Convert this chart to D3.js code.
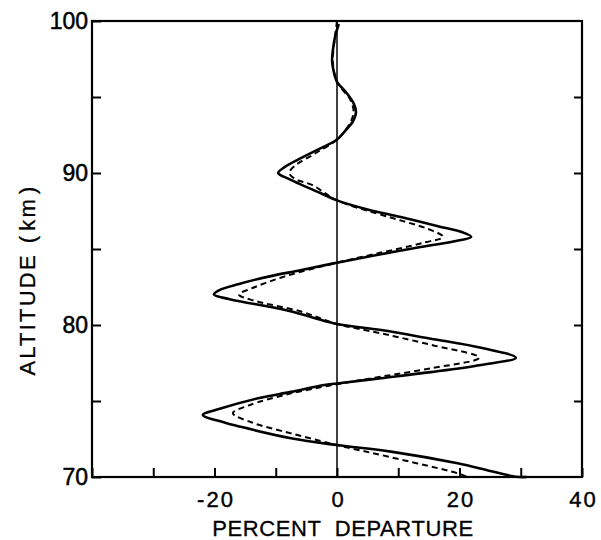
<!DOCTYPE html>
<html>
<head>
<meta charset="utf-8">
<script src="https://cdn.jsdelivr.net/npm/d3@7"></script>
<style>
  html, body { margin: 0; padding: 0; background: #fff; }
  svg { display: block; }
  text { font-family: "Liberation Sans", "DejaVu Sans", sans-serif; fill: #000; }
</style>
</head>
<body>
<svg id="chart" width="601" height="540"></svg>
<script>
// ---- data ----
const xTicks = [-40, -30, -20, -10, 0, 10, 20, 30, 40];
const xLabels = [-20, 0, 20, 40];
const yTicks = [70, 75, 80, 85, 90, 95, 100];
const yLabels = [70, 80, 90, 100];

// measured profile (solid): altitude (km), percent departure
const measuredAlt = [99.8, 99.0, 98.0, 97.4, 96.8, 96.0, 95.3, 94.6, 94.0, 93.4, 92.8, 92.2, 91.5, 90.9, 90.4, 90.0, 89.6, 89.3, 88.7, 88.2, 87.6, 87.1, 86.5, 86.1, 85.8, 85.5, 85.1, 84.6, 84.1, 83.6, 83.2, 82.7, 82.3, 82.0, 81.7, 81.0, 80.5, 80.07, 79.67, 79.1, 78.5, 77.85, 77.37, 76.9, 76.5, 76.15, 76.05, 75.6, 75.18, 74.5, 74.08, 73.6, 73.3, 72.55, 72.1, 71.67, 70.9, 70.4, 70.02, 70.0];
const measuredVal = [0.3, -0.3, -0.7, -0.8, -0.6, 0.0, 1.5, 2.7, 3.1, 2.6, 1.4, 0.0, -3.3, -6.3, -8.5, -9.6, -7.8, -6.2, -2.8, 0.0, 5.0, 10.4, 16.5, 20.5, 21.9, 19.0, 13.2, 6.5, 0.0, -6.0, -11.0, -16.0, -19.2, -20.1, -17.5, -8.6, -4.0, 0.0, 7.2, 15.3, 23.5, 29.2, 23.5, 15.3, 7.2, 0.0, -2.1, -7.5, -12.9, -19.0, -21.9, -18.5, -15.7, -7.5, 0.0, 8.8, 19.7, 25.0, 29.2, 31.0];

// fitted profile (dashed)
const fitAlt = [100.0, 98.0, 97.4, 96.0, 94.8, 94.0, 93.2, 92.2, 91.3, 90.5, 90.0, 89.6, 89.2, 88.2, 87.1, 86.3, 85.8, 85.4, 84.7, 84.1, 83.2, 82.4, 82.0, 81.6, 80.9, 80.07, 79.45, 78.7, 77.85, 77.15, 76.6, 76.1, 75.5, 74.7, 74.2, 73.6, 72.87, 72.1, 71.3, 70.24, 70.0];
const fitVal = [0.0, -0.6, -0.7, 0.0, 2.2, 2.7, 2.0, 0.0, -3.5, -6.8, -7.8, -6.8, -4.0, 0.0, 8.5, 15.0, 17.3, 14.0, 6.5, 0.0, -8.5, -14.0, -16.0, -13.5, -6.0, 0.0, 7.2, 15.3, 23.2, 15.3, 7.2, 0.0, -7.5, -14.5, -17.0, -14.0, -7.5, 0.0, 8.8, 19.7, 21.3];

// ---- layout ----
const svg = d3.select("#chart");
const pLeft = 92, pRight = 582, pTop = 21, pBottom = 477;

const x = d3.scaleLinear().domain([-40, 40]).range([pLeft, pRight]);
const y = d3.scaleLinear().domain([70, 100]).range([pBottom, pTop]);

const measured = measuredAlt.map((a, i) => ({ alt: a, v: measuredVal[i] }));
const fit = fitAlt.map((a, i) => ({ alt: a, v: fitVal[i] }));

// zero line
svg.append("line")
  .attr("x1", x(0)).attr("x2", x(0))
  .attr("y1", y(100)).attr("y2", y(70))
  .attr("stroke", "#000").attr("stroke-width", 1.5);

const line = d3.line()
  .x(d => x(d.v))
  .y(d => y(d.alt))
  .curve(d3.curveCatmullRom.alpha(0.5));

svg.append("path")
  .datum(fit)
  .attr("d", line)
  .attr("fill", "none")
  .attr("stroke", "#000")
  .attr("stroke-width", 2)
  .attr("stroke-dasharray", "6,4");

svg.append("path")
  .datum(measured)
  .attr("d", line)
  .attr("fill", "none")
  .attr("stroke", "#000")
  .attr("stroke-width", 2.6)
  .attr("stroke-linejoin", "round");

// axes
const fmtY = d => yLabels.includes(d) ? String(d) : "";
const fmtX = d => xLabels.includes(d) ? String(d) : "";

const gL = svg.append("g").attr("transform", `translate(${pLeft},0)`)
  .call(d3.axisLeft(y).tickValues(yTicks).tickSize(-9).tickPadding(4).tickFormat(fmtY));
gL.select(".domain").remove();
gL.selectAll("text").attr("font-size", 23).attr("font-family", "Liberation Sans, sans-serif")
  .attr("fill", "#000").attr("stroke", "#000").attr("stroke-width", 0.5);

const gR = svg.append("g").attr("transform", `translate(${pRight},0)`)
  .call(d3.axisRight(y).tickValues(yTicks.filter(d => d > 70 && d < 100)).tickSize(-8).tickFormat(() => ""));
gR.select(".domain").remove();

const gB = svg.append("g").attr("transform", `translate(0,${pBottom})`)
  .call(d3.axisBottom(x).tickValues(xTicks).tickSize(-9).tickPadding(14).tickFormat(fmtX));
gB.select(".domain").remove();
gB.selectAll("text").attr("font-size", 22).attr("letter-spacing", 2).attr("dx", 1)
  .attr("font-family", "Liberation Sans, sans-serif")
  .attr("fill", "#000").attr("stroke", "#000").attr("stroke-width", 0.4);

[gL, gR, gB].forEach(g => g.selectAll("line").attr("stroke", "#000").attr("stroke-width", 2));

// frame
svg.append("rect")
  .attr("x", pLeft).attr("y", pTop)
  .attr("width", pRight - pLeft).attr("height", pBottom - pTop)
  .attr("fill", "none").attr("stroke", "#000").attr("stroke-width", 2.2);

// axis titles
svg.append("text")
  .attr("x", 343).attr("y", 536)
  .attr("text-anchor", "middle")
  .attr("font-size", 22)
  .attr("letter-spacing", 0.6)
  .attr("stroke", "#000").attr("stroke-width", 0.3)
  .style("white-space", "pre")
  .text("PERCENT  DEPARTURE");

const yt = svg.append("text")
  .attr("transform", "translate(35,280) rotate(-90)")
  .attr("text-anchor", "middle")
  .attr("font-size", 22)
  .attr("letter-spacing", 2.2)
  .attr("stroke", "#000").attr("stroke-width", 0.3)
  .style("white-space", "pre");
yt.append("tspan").text("ALTITUDE");
yt.append("tspan").attr("dx", 10).text("(");
yt.append("tspan").attr("dx", 3).text("km");
yt.append("tspan").attr("dx", 3).text(")");
</script>
</body>
</html>
